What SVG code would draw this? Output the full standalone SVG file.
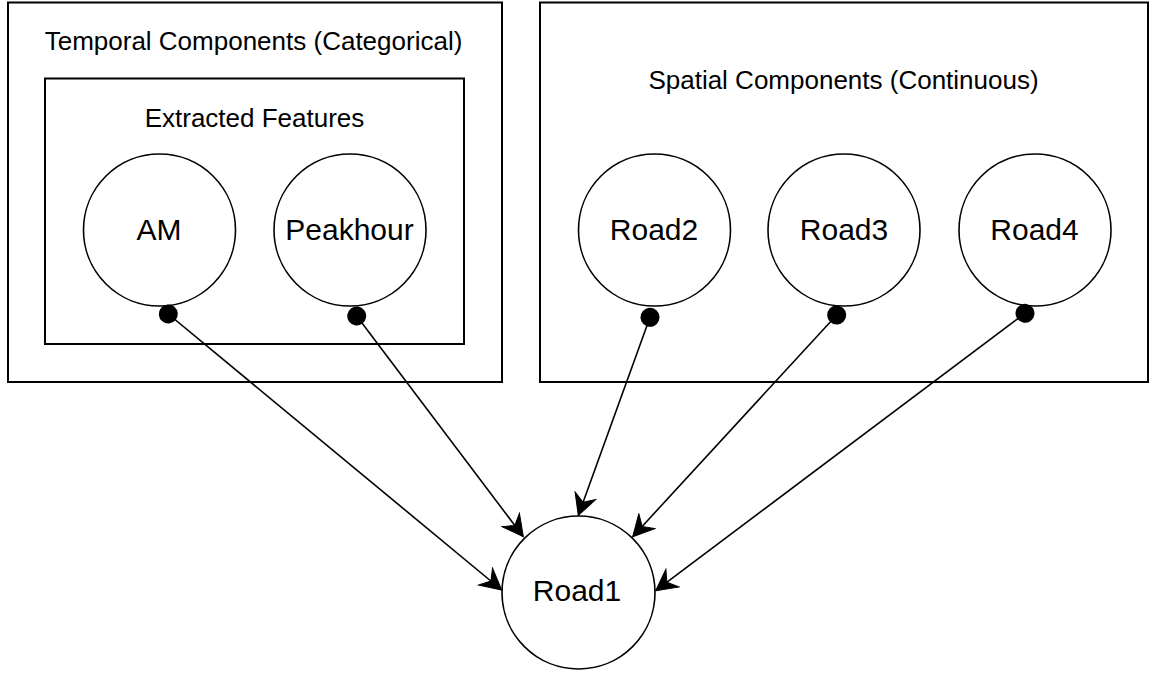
<svg xmlns="http://www.w3.org/2000/svg" width="1152" height="673" viewBox="0 0 1152 673">
  <defs>
    <style>
      .box { fill: #ffffff; stroke: #000000; stroke-width: 2; }
      .node { fill: #ffffff; stroke: #000000; stroke-width: 1.6; }
      .title { font-family: "Liberation Sans", Arial, Helvetica, sans-serif; font-size: 26px; fill: #000000; text-anchor: middle; }
      .label { font-family: "Liberation Sans", Arial, Helvetica, sans-serif; font-size: 30px; fill: #000000; text-anchor: middle; }
      .edge { fill: none; stroke: #000000; stroke-width: 1.6; marker-start: url(#dot); marker-end: url(#arrow); }
    </style>
    <marker id="arrow" viewBox="-22 -12 23 24" refX="0" refY="0" markerWidth="23" markerHeight="24" markerUnits="userSpaceOnUse" orient="auto">
      <path d="M0,0 L-21,-11 L-14,0 L-21,11 Z" fill="#000000" stroke="#000000" stroke-width="1" stroke-linejoin="miter"/>
    </marker>
    <marker id="dot" viewBox="-10 -10 20 20" refX="0" refY="0" markerWidth="20" markerHeight="20" markerUnits="userSpaceOnUse" orient="auto">
      <circle cx="0" cy="0" r="9.5" fill="#000000"/>
    </marker>
  </defs>

  <rect width="1152" height="673" fill="#ffffff"/>

  <g id="temporal-group">
    <rect class="box" x="8" y="2.5" width="494" height="379.5"/>
    <text class="title" x="253.5" y="50">Temporal Components (Categorical)</text>
  </g>

  <g id="extracted-group">
    <rect class="box" x="45" y="78.5" width="419" height="265.5"/>
    <text class="title" x="254.5" y="126.5">Extracted Features</text>
  </g>

  <g id="spatial-group">
    <rect class="box" x="540" y="2.5" width="608" height="379.5"/>
    <text class="title" x="843.5" y="88.5">Spatial Components (Continuous)</text>
  </g>

  <g id="node-am">
    <circle class="node" cx="159.5" cy="230" r="76"/>
    <text class="label" x="159" y="240">AM</text>
  </g>

  <g id="node-peakhour">
    <circle class="node" cx="350" cy="230" r="76"/>
    <text class="label" x="349.5" y="240">Peakhour</text>
  </g>

  <g id="node-road2">
    <circle class="node" cx="654.5" cy="230" r="76"/>
    <text class="label" x="654" y="240">Road2</text>
  </g>

  <g id="node-road3">
    <circle class="node" cx="844" cy="230" r="76"/>
    <text class="label" x="844" y="240">Road3</text>
  </g>

  <g id="node-road4">
    <circle class="node" cx="1035" cy="230" r="76"/>
    <text class="label" x="1034.5" y="240">Road4</text>
  </g>

  <g id="node-road1">
    <circle class="node" cx="578.5" cy="592.5" r="76.5"/>
    <text class="label" x="577" y="601">Road1</text>
  </g>

  <g id="connectors">
    <line class="edge" x1="168.3" y1="314" x2="501.7" y2="590"/>
    <line class="edge" x1="356.7" y1="316" x2="523.3" y2="536.7"/>
    <line class="edge" x1="650" y1="317.3" x2="578.3" y2="515.5"/>
    <line class="edge" x1="836.7" y1="315" x2="632.7" y2="536.7"/>
    <line class="edge" x1="1025" y1="313.3" x2="655.7" y2="590.7"/>
  </g>
</svg>
